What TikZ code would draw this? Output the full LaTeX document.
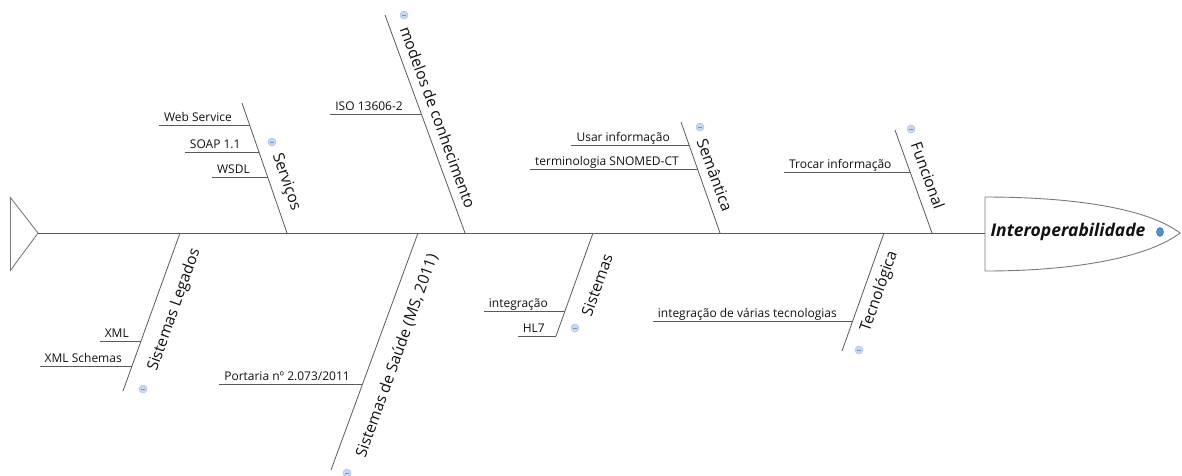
\documentclass[tikz,border=0pt]{standalone}
\usepackage{fontspec}
\setmainfont{Open Sans}
\usetikzlibrary{shapes.geometric}
\definecolor{linegray}{HTML}{5A5A5A}
\definecolor{outlinegray}{HTML}{7A7A7A}
\definecolor{txt}{HTML}{111111}
\definecolor{foldfill}{HTML}{C9D8F2}
\definecolor{foldedge}{HTML}{A9BFE6}
\definecolor{foldmark}{HTML}{6F93D3}
\definecolor{dotfill}{HTML}{4F8FD6}
\definecolor{dotedge}{HTML}{2F63A8}
\begin{document}
\begin{tikzpicture}[x=1pt,y=-1pt,
  bone/.style={draw=linegray, line width=0.8pt},
  spine/.style={draw=linegray, line width=1pt},
  outline/.style={draw=outlinegray, line width=0.9pt},
  leaf/.style={font=\fontsize{12}{14}\selectfont, text=txt, inner xsep=5pt, inner ysep=0pt, anchor=base east},
  cat/.style={font=\fontsize{15.5}{18}\selectfont, text=txt, inner sep=0pt},
  fold/.style={circle, draw=foldedge, fill=foldfill, minimum size=8pt, inner sep=0pt, line width=0.5pt,
    path picture={\draw[foldmark, line width=0.7pt]
      ([xshift=-2pt]path picture bounding box.center) -- ([xshift=2pt]path picture bounding box.center);}}
]
\useasboundingbox (0,0) rectangle (1182,475);

% tail
\coordinate (tt) at (10,197);
\coordinate (tb) at (10,271);
\coordinate (tv) at (38,233);
\draw[outline] (tt) -- (tb);
\draw[outline] (tt) -- (tv) -- (tb);

% head
\coordinate (hl) at (985,233);
\draw[outline] (985,197) .. controls (1080,197) and (1150,210) .. (1180,233)
  .. controls (1150,256) and (1080,271) .. (985,271) -- cycle;
\node[font=\fontsize{17.5}{20}\selectfont\bfseries\itshape, text=txt, inner sep=0pt] (head) at (1068,232) {Interoperabilidade};
\node[ellipse, draw=dotedge, fill=dotfill, minimum width=7pt, minimum height=9pt, inner sep=0pt, line width=0.4pt] (hdot) at (1160,232) {};

% spine
\draw[spine] (tv) -- (hl);

% ---- upper bones ----
% Serviços
\coordinate (sv1) at (242,103);
\coordinate (sv2) at (287,233);
\draw[bone] (sv1) -- (sv2);
\node[cat, rotate=-70.9] (svl) at (286,182) {Serviços};
\node[fold] (svf) at (272,142) {};
\coordinate (ws) at (249.6,125);
\node[leaf] (wsl) at (237,121.5) {Web Service};
\draw[bone] (ws) -- (ws -| wsl.west);
\coordinate (sp) at (258.5,152);
\node[leaf] (spl) at (245.7,148.5) {SOAP 1.1};
\draw[bone] (sp) -- (sp -| spl.west);
\coordinate (wd) at (267.6,177);
\node[leaf] (wdl) at (255,173.5) {WSDL};
\draw[bone] (wd) -- (wd -| wdl.west);

% modelos de conhecimento
\coordinate (mc1) at (385,15);
\coordinate (mc2) at (465,233);
\draw[bone] (mc1) -- (mc2);
\node[cat, rotate=-69.9] (mcl) at (438,117.5) {modelos de conhecimento};
\node[fold] (mcf) at (404,15) {};
\coordinate (iso) at (421.3,114);
\node[leaf] (isol) at (408,110.5) {ISO 13606-2};
\draw[bone] (iso) -- (iso -| isol.west);

% Semântica
\coordinate (se1) at (681,122);
\coordinate (se2) at (720,233);
\draw[bone] (se1) -- (se2);
\node[cat, rotate=-69.7] (sel) at (715,175) {Semântica};
\node[fold] (sef) at (700,127) {};
\coordinate (ui) at (688.7,145);
\node[leaf] (uil) at (675,141.5) {Usar informação};
\draw[bone] (ui) -- (ui -| uil.west);
\coordinate (sn) at (697.6,169);
\node[leaf] (snl) at (684,165.5) {terminologia SNOMED-CT};
\draw[bone] (sn) -- (sn -| snl.west);

% Funcional
\coordinate (fu1) at (895,130);
\coordinate (fu2) at (932,233);
\draw[bone] (fu1) -- (fu2);
\node[cat, rotate=-70.2] (ful) at (928,175.5) {Funcional};
\node[fold] (fuf) at (911,129) {};
\coordinate (ti) at (909.9,172);
\node[leaf] (til) at (896.7,168.5) {Trocar informação};
\draw[bone] (ti) -- (ti -| til.west);

% ---- lower bones ----
% Sistemas Legados
\coordinate (lg1) at (180,233);
\coordinate (lg2) at (123,391);
\draw[bone] (lg2) -- (lg1);
\node[cat, rotate=70.3] (lgl) at (174.5,310) {Sistemas Legados};
\node[fold] (lgf) at (143,389) {};
\coordinate (xm) at (141,341);
\node[leaf] (xml) at (134,337.5) {XML};
\draw[bone] (xm) -- (xm -| xml.west);
\coordinate (xs) at (132,366);
\node[leaf] (xsl) at (127,362.5) {XML Schemas};
\draw[bone] (xs) -- (xs -| xsl.west);

% Sistemas de Saúde
\coordinate (ss1) at (418,233);
\coordinate (ss2) at (331,470);
\draw[bone] (ss2) -- (ss1);
\node[cat, rotate=70.3] (ssl) at (397,356) {Sistemas de Saúde (MS, 2011)};
\node[fold] (ssf) at (347,473) {};
\coordinate (po) at (362,384);
\node[leaf] (pol) at (355,380.5) {Portaria nº 2.073/2011};
\draw[bone] (po) -- (po -| pol.west);

% Sistemas
\coordinate (si1) at (593,233);
\coordinate (si2) at (556,336);
\draw[bone] (si2) -- (si1);
\node[cat, rotate=70.2] (sil) at (597,285) {Sistemas};
\node[fold] (sif) at (575,328) {};
\coordinate (ig) at (565,311);
\node[leaf] (igl) at (553,307.5) {integração};
\draw[bone] (ig) -- (ig -| igl.west);
\coordinate (hl7) at (556,336);
\node[leaf] (hl7l) at (550,332.5) {HL7};
\draw[bone] (hl7) -- (hl7 -| hl7l.west);

% Tecnológica
\coordinate (te1) at (884,233);
\coordinate (te2) at (842,351);
\draw[bone] (te2) -- (te1);
\node[cat, rotate=70.7] (tel) at (879.5,291.5) {Tecnológica};
\node[fold] (tef) at (859,350) {};
\coordinate (vt) at (852,321);
\node[leaf] (vtl) at (842,317.5) {integração de várias tecnologias};
\draw[bone] (vt) -- (vt -| vtl.west);
\end{tikzpicture}
\end{document}
